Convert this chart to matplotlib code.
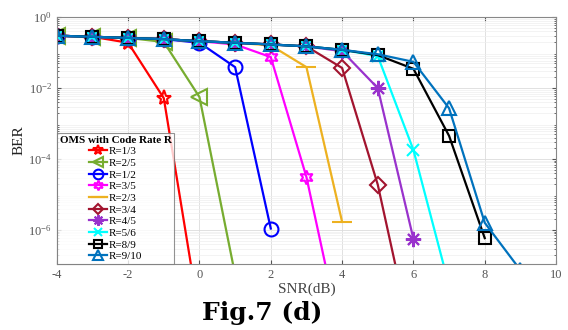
import numpy as np
import matplotlib.pyplot as plt
from matplotlib.ticker import LogLocator, NullFormatter

plt.rcParams['font.family'] = ['Liberation Serif', 'DejaVu Serif']
plt.rcParams['axes.unicode_minus'] = False

snr = [-4, -3, -2, -1, 0, 1, 2, 3, 4, 5, 6, 7, 8, 9]

# BER per code rate (points below 1e-7 are off-plot)
ber_13 = [0.30, 0.28, 0.19, 5.2e-3, 3.6e-9]
ber_25 = [0.30, 0.28, 0.26, 0.20, 5.6e-3, 5.5e-8]
ber_12 = [0.30, 0.28, 0.26, 0.24, 0.19, 0.039, 1.1e-6]
ber_35 = [0.30, 0.28, 0.26, 0.24, 0.21, 0.17, 0.075, 3.1e-5, 7e-10]
ber_23 = [0.30, 0.28, 0.26, 0.24, 0.21, 0.19, 0.16, 0.039, 1.7e-6]
ber_34 = [0.30, 0.28, 0.26, 0.24, 0.21, 0.19, 0.17, 0.15, 0.037, 1.9e-5, 5e-10]
ber_45 = [0.30, 0.28, 0.26, 0.24, 0.21, 0.19, 0.17, 0.15, 0.11, 0.010, 5.6e-7]
ber_56 = [0.30, 0.28, 0.26, 0.24, 0.21, 0.19, 0.17, 0.15, 0.12, 0.08, 1.8e-4, 2.7e-8]
ber_89 = [0.30, 0.28, 0.26, 0.24, 0.21, 0.19, 0.17, 0.15, 0.12, 0.085, 0.035, 4.5e-4, 5.9e-7]
ber_910 = [0.30, 0.28, 0.26, 0.24, 0.21, 0.19, 0.17, 0.15, 0.12, 0.09, 0.055, 2.7e-3, 1.6e-6, 7.4e-8]

labels = ['R=1/3', 'R=2/5', 'R=1/2', 'R=3/5', 'R=2/3',
          'R=3/4', 'R=4/5', 'R=5/6', 'R=8/9', 'R=9/10']
series = [ber_13, ber_25, ber_12, ber_35, ber_23,
          ber_34, ber_45, ber_56, ber_89, ber_910]
colors = ['#ff0000', '#77ac30', '#0000ff', '#ff00ff', '#edb120',
          '#a2142f', '#9932cc', '#00ffff', '#000000', '#0072bd']
markers = ['*', '<', 'o', (6, 1, 0), '_', 'D', (8, 2, 0), 'x', 's', '^']
msizes = [11, 11, 10, 10, 14, 8, 11, 9, 8, 10]

fig = plt.figure(figsize=(5.68, 3.30), dpi=100)
ax = fig.add_axes([0.100, 0.200, 0.879, 0.748])

for ber, lab, c, m, ms in zip(series, labels, colors, markers, msizes):
    ax.semilogy(snr[:len(ber)], ber, color=c, marker=m, markersize=ms,
                markerfacecolor='none', markeredgewidth=1.5, linewidth=1.6,
                label=lab)

ax.set_xlim(-4, 10)
ax.set_ylim(1.1e-7, 1)
ax.set_xticks([-4, -2, 0, 2, 4, 6, 8, 10])
ax.set_yticks([1, 1e-2, 1e-4, 1e-6])
ax.yaxis.set_minor_locator(LogLocator(base=10, subs=np.arange(2, 10), numticks=20))
ax.yaxis.set_minor_formatter(NullFormatter())

ax.grid(True, which='major', color='#dcdcdc', linewidth=0.6)
ax.grid(True, which='minor', axis='y', color='#efefef', linewidth=0.5)
ax.tick_params(which='both', direction='in', top=True, right=True,
               labelsize=9, colors='#555555', length=3)
ax.tick_params(which='minor', length=1.5)
for s in ax.spines.values():
    s.set_color('#888888')
    s.set_linewidth(0.8)

ax.set_xlabel('SNR(dB)', fontsize=11, color='#444444', labelpad=1)
ax.set_ylabel('BER', fontsize=11, color='#222222', labelpad=2)

leg = ax.legend(loc='lower left', title='OMS with Code Rate R', fontsize=8,
                title_fontproperties={'weight': 'bold', 'size': 8},
                frameon=True, fancybox=False, edgecolor='#777777',
                borderaxespad=0, labelspacing=0.17, handlelength=1.7,
                handletextpad=0.15, borderpad=0.25, markerscale=0.7)
leg.get_frame().set_linewidth(0.8)

fig.text(0.462, 0.015, 'Fig.7 (d)', fontsize=18, fontweight='bold',
         family='DejaVu Serif', ha='center', va='bottom')

fig.savefig('out.png', dpi=100)
